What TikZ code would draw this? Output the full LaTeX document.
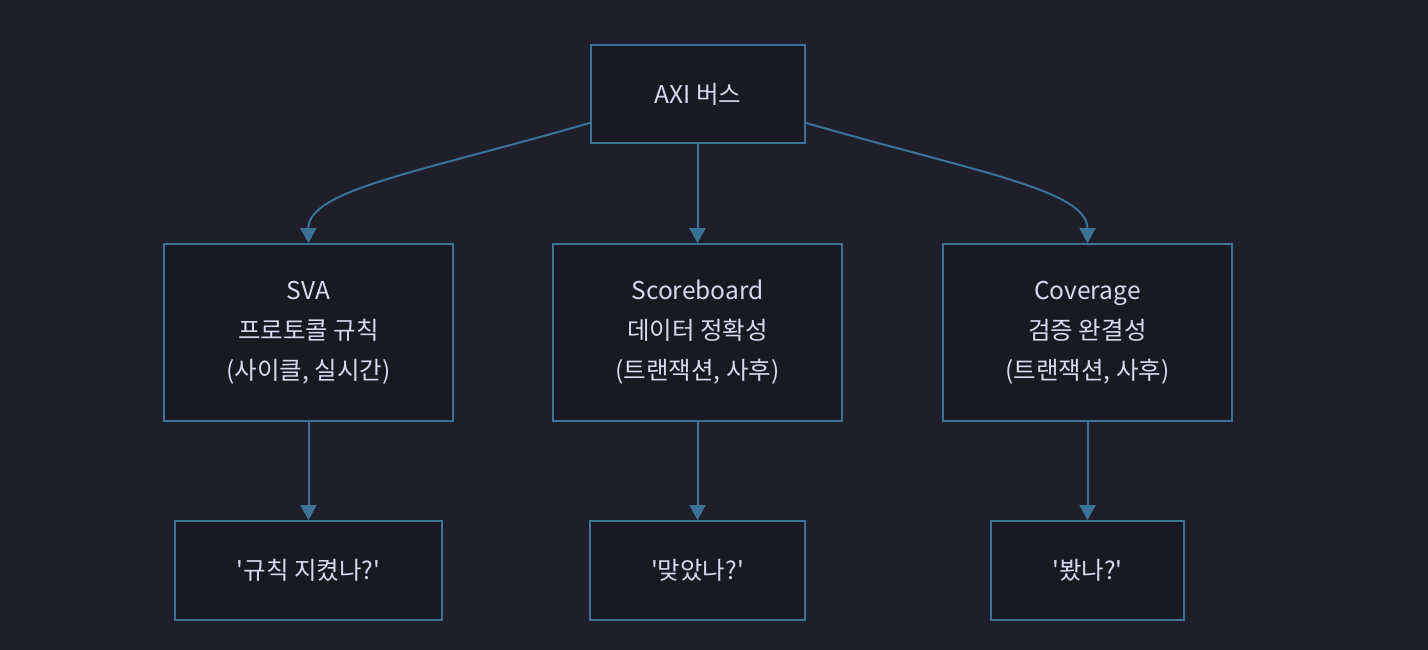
\documentclass[tikz,border=0pt]{standalone}
\usepackage{fontspec}
\setmainfont{Noto Sans CJK KR}[Ligatures=TeXOff]
\usetikzlibrary{arrows.meta}
\definecolor{bgc}{HTML}{1F1F2B}
\definecolor{boxc}{HTML}{191924}
\definecolor{edgec}{HTML}{3B7396}
\definecolor{txtc}{HTML}{D6DAF0}
\begin{document}
\begin{tikzpicture}[x=1pt,y=-1pt,
  box/.style={draw=edgec, fill=boxc, line width=1.8pt, inner sep=0pt, text=txtc,
    font=\fontsize{24.5}{40}\selectfont, align=center},
  conn/.style={draw=edgec, line width=2pt, -{Triangle[length=15pt,width=16pt]}}]
\fill[bgc] (0,0) rectangle (1428,650);
\useasboundingbox (0,0) rectangle (1428,650);
\node[box, minimum width=214pt, minimum height=98pt] (axi) at (698,94) {AXI 버스};
\node[box, minimum width=289pt, minimum height=177pt] (sva) at (308.5,332.5) {SVA\\프로토콜 규칙\\(사이클, 실시간)};
\node[box, minimum width=289pt, minimum height=177pt] (sb) at (697.5,332.5) {Scoreboard\\데이터 정확성\\(트랜잭션, 사후)};
\node[box, minimum width=289pt, minimum height=177pt] (cov) at (1087.5,332.5) {Coverage\\검증 완결성\\(트랜잭션, 사후)};
\node[box, minimum width=267pt, minimum height=99pt] (q1) at (308.5,570.5) {'규칙 지켰나?'};
\node[box, minimum width=215pt, minimum height=99pt] (q2) at (697.5,570.5) {'맞았나?'};
\node[box, minimum width=193pt, minimum height=99pt] (q3) at (1087.5,570.5) {'봤나?'};
\coordinate (axil) at ([yshift=21pt]axi.south west);
\coordinate (axir) at ([yshift=21pt]axi.south east);
\draw[conn] (axil) .. controls (420,172) and (308,190) .. (sva.north);
\draw[conn] (axir) .. controls (976,172) and (1087.5,190) .. (cov.north);
\draw[conn] (axi.south -| sb.north) -- (sb.north);
\draw[conn] (sva) -- (q1);
\draw[conn] (sb) -- (q2);
\draw[conn] (cov) -- (q3);
\end{tikzpicture}
\end{document}
